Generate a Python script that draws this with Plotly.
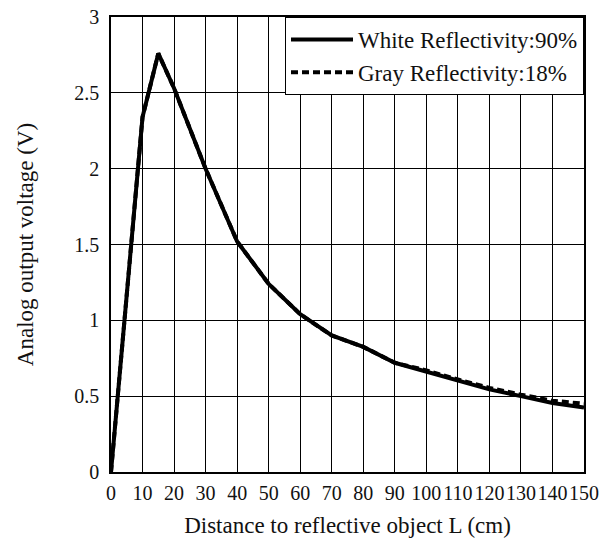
import plotly.graph_objects as go

distance = [0, 10, 15, 20, 30, 40, 50, 60, 70, 80, 90, 100, 110, 120, 130, 140, 150]
white_v = [0, 2.34, 2.76, 2.53, 2.0, 1.52, 1.24, 1.04, 0.90, 0.825, 0.72, 0.66, 0.60, 0.545, 0.50, 0.455, 0.425]
gray_v = [0, 2.34, 2.76, 2.53, 2.0, 1.52, 1.24, 1.04, 0.90, 0.825, 0.72, 0.67, 0.61, 0.555, 0.51, 0.47, 0.45]

x_ticks = list(range(0, 151, 10))
y_ticks = [0, 0.5, 1, 1.5, 2, 2.5, 3]
y_ticktext = ["0", "0.5", "1", "1.5", "2", "2.5", "3"]

FONT = "Liberation Serif, Times New Roman, serif"

fig = go.Figure()
fig.add_trace(go.Scatter(
    x=distance, y=gray_v, mode="lines", name="Gray Reflectivity:18%",
    line=dict(color="black", width=4, dash="7px,4px"), legendrank=2))
fig.add_trace(go.Scatter(
    x=distance, y=white_v, mode="lines", name="White Reflectivity:90%",
    line=dict(color="black", width=4), legendrank=1))

fig.update_layout(
    width=599, height=545,
    margin=dict(l=111, r=15, t=17, b=73),
    paper_bgcolor="white", plot_bgcolor="white",
    font=dict(family=FONT, color="#111", size=20),
    showlegend=True,
    legend=dict(x=1, y=1, xanchor="right", yanchor="top",
                bgcolor="white", bordercolor="black", borderwidth=1,
                font=dict(family=FONT, size=23, color="#111"),
                tracegroupgap=0, itemwidth=62),
)
fig.update_xaxes(
    range=[0, 150], tickvals=x_ticks, ticktext=[str(v) for v in x_ticks],
    showgrid=True, gridcolor="black", gridwidth=1.3,
    showline=True, linecolor="black", linewidth=1.5, mirror=True,
    zeroline=False, ticks="", automargin=False, ticklabelstandoff=2,
    tickangle=0,
    title=dict(text="Distance to reflective object L (cm)", font=dict(size=23), standoff=14),
    tickfont=dict(size=20),
)
fig.update_yaxes(
    range=[0, 3], tickvals=y_ticks, ticktext=y_ticktext,
    showgrid=True, gridcolor="black", gridwidth=1.3,
    showline=True, linecolor="black", linewidth=1.5, mirror=True,
    zeroline=False, ticks="", automargin=False, ticklabelstandoff=6,
    title=dict(text="Analog output voltage (V)", font=dict(size=23), standoff=34),
    tickfont=dict(size=20),
)

fig.write_html("out.html",
               config={"displayModeBar": False},
               post_script="document.body.style.margin='0';document.body.style.overflow='hidden';")
